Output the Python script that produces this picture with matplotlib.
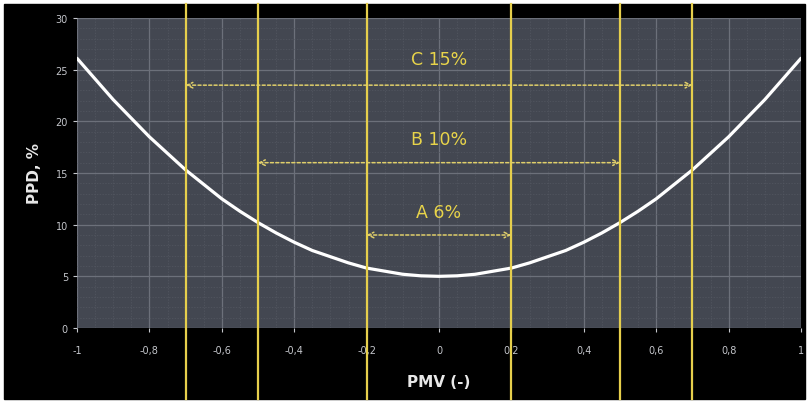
import matplotlib.pyplot as plt
from matplotlib.patches import Rectangle

# PMV / PPD values
pmv = [-1.0, -0.95, -0.9, -0.85, -0.8, -0.75, -0.7, -0.65, -0.6, -0.55, -0.5,
       -0.45, -0.4, -0.35, -0.3, -0.25, -0.2, -0.15, -0.1, -0.05, 0.0,
       0.05, 0.1, 0.15, 0.2, 0.25, 0.3, 0.35, 0.4, 0.45, 0.5,
       0.55, 0.6, 0.65, 0.7, 0.75, 0.8, 0.85, 0.9, 0.95, 1.0]
ppd = [26.1, 24.1, 22.1, 20.3, 18.5, 16.9, 15.3, 13.9, 12.5, 11.3, 10.2,
       9.2, 8.3, 7.5, 6.9, 6.3, 5.8, 5.5, 5.2, 5.05, 5.0,
       5.05, 5.2, 5.5, 5.8, 6.3, 6.9, 7.5, 8.3, 9.2, 10.2,
       11.3, 12.5, 13.9, 15.3, 16.9, 18.5, 20.3, 22.1, 24.1, 26.1]

# comfort categories: label, PMV limit, arrow height, label height
cat_labels = ['A 6%', 'B 10%', 'C 15%']
cat_limits = [0.2, 0.5, 0.7]
arrow_y = [9.0, 16.0, 23.5]
label_y = [11.2, 18.3, 26.0]

xticks = [-1, -0.8, -0.6, -0.4, -0.2, 0, 0.2, 0.4, 0.6, 0.8, 1]
xticklabels = ['-1', '-0,8', '-0,6', '-0,4', '-0,2', '0', '0,2', '0,4', '0,6', '0,8', '1']
yticks = [0, 5, 10, 15, 20, 25, 30]

W, H = 809, 402
fig = plt.figure(figsize=(W / 100, H / 100), dpi=100)
fig.patch.set_facecolor('white')
fig.patches.append(Rectangle((4 / W, 2 / H), 801 / W, 395 / H,
                             transform=fig.transFigure, color='black', zorder=-10))

ax = fig.add_axes([77 / W, (H - 329) / H, 724 / W, 310 / H])
ax.set_facecolor('#434751')
ax.set_xlim(-1, 1)
ax.set_ylim(0, 30)

ax.set_xticks(xticks)
ax.set_xticklabels(xticklabels)
ax.set_yticks(yticks)
ax.set_xticks([i / 20 - 1 for i in range(41)], minor=True)
ax.set_yticks(range(31), minor=True)
ax.grid(True, which='major', color='#6c707a', lw=0.9)
ax.grid(True, which='minor', color='#535761', lw=0.5, ls=(0, (2, 2)))
ax.tick_params(which='both', colors='#c4c6cb', labelsize=7, length=3)
ax.tick_params(axis='x', pad=9)
ax.tick_params(which='minor', length=0)
for s in ax.spines.values():
    s.set_visible(False)

ax.set_xlabel('PMV (-)', color='#e8e8e8', fontsize=11, fontweight='bold', labelpad=14)
ax.set_ylabel('PPD, %', color='#e8e8e8', fontsize=11, fontweight='bold', labelpad=10)

ax.plot(pmv, ppd, color='white', lw=2.3, zorder=4, solid_capstyle='round')

# yellow boundary lines run over the whole dark frame
for lim in cat_limits:
    for x in (-lim, lim):
        ax.axvline(x, ymin=-0.229, ymax=1.045, color='#e6cf4c', lw=1.6,
                   clip_on=False, zorder=5)

for lab, lim, ya, yl in zip(cat_labels, cat_limits, arrow_y, label_y):
    ax.annotate('', xy=(lim, ya), xytext=(-lim, ya),
                arrowprops=dict(arrowstyle='<->', color='#e0cf6a', lw=1.1,
                                ls=(0, (2, 1.5)), shrinkA=0, shrinkB=0),
                zorder=6)
    ax.text(0, yl, lab, color='#e8d44a', fontsize=12.5, ha='center', va='center',
            zorder=6)

fig.savefig('out.png', dpi=100, facecolor=fig.get_facecolor())
